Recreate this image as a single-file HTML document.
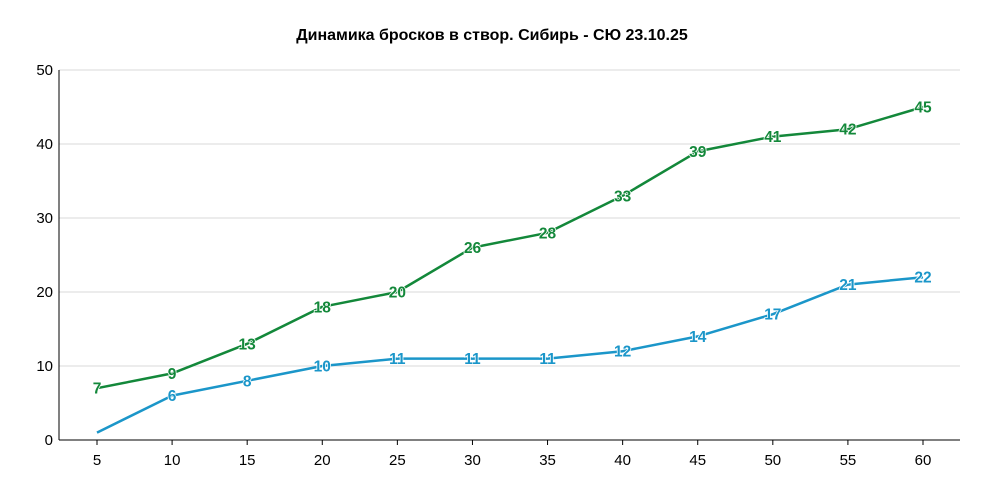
<!DOCTYPE html>
<html><head><meta charset="utf-8"><style>
body{margin:0;background:#fff;width:984px;height:492px;overflow:hidden}
svg text{font-family:"Liberation Sans","DejaVu Sans",sans-serif}
</style></head><body>
<svg id="chart" width="984" height="492" xmlns="http://www.w3.org/2000/svg">
<text x="492" y="40" text-anchor="middle" font-size="16" font-weight="bold" fill="#000">Динамика бросков в створ. Сибирь - СЮ 23.10.25</text>
<g id="grid"></g><g id="axes"></g><g id="series"></g>
</svg>
<script>
const minutes = [5,10,15,20,25,30,35,40,45,50,55,60];
const greenValues = [7,9,13,18,20,26,28,33,39,41,42,45];
const blueValues = [1,6,8,10,11,11,11,12,14,17,21,22];
const yTicks = [0,10,20,30,40,50];
const ns="http://www.w3.org/2000/svg";
const L=59,R=960,T=70,B=440;
const x=v=>97+(v-5)*(923-97)/55;
const y=v=>B-(v/50)*(B-T);
function mk(tag,attrs,parent,text){const e=document.createElementNS(ns,tag);for(const k in attrs)e.setAttribute(k,attrs[k]);if(text!==undefined)e.textContent=text;parent.appendChild(e);return e;}
const grid=document.getElementById('grid'),axes=document.getElementById('axes'),ser=document.getElementById('series');
yTicks.forEach(t=>{
 if(t>0){const g=mk('line',{x1:L,x2:R,y1:y(t),y2:y(t),stroke:'#d9d9d9','stroke-width':1},grid);
 
 }
 const lb=mk('text',{x:L-6,y:y(t)+5,'text-anchor':'end','font-size':15,fill:'#000'},axes,t);
 
 
});
minutes.forEach(m=>{
 mk('line',{x1:x(m),x2:x(m),y1:B,y2:B+5,stroke:'#000'},axes);
 const lb=mk('text',{x:x(m),y:B+25,'text-anchor':'middle','font-size':15,fill:'#000'},axes,m);
 
 
});
const ya=mk('line',{x1:L,x2:L,y1:T,y2:B,stroke:'#000'},axes);


const xa=mk('line',{x1:L,x2:R,y1:B,y2:B,stroke:'#000'},axes);


function draw(vals,color,name,skipFirst){
 const p=mk('polyline',{points:vals.map((v,i)=>x(minutes[i])+','+y(v)).join(' '),fill:'none',stroke:color,'stroke-width':2.5,'stroke-linejoin':'round'},ser);
 
 
 vals.forEach((v,i)=>{
  if(skipFirst&&i===0)return;
  const t=mk('text',{x:x(minutes[i]),y:y(v)+5.5,'text-anchor':'middle','font-size':15.5,'font-weight':'bold',fill:color,stroke:'#fff','stroke-width':1.5,'paint-order':'stroke'},ser,v);
  
  
 });
}
draw(greenValues,'#13883a','green-series',false);
draw(blueValues,'#1b96c9','blue-series',true);
</script>
</body></html>
